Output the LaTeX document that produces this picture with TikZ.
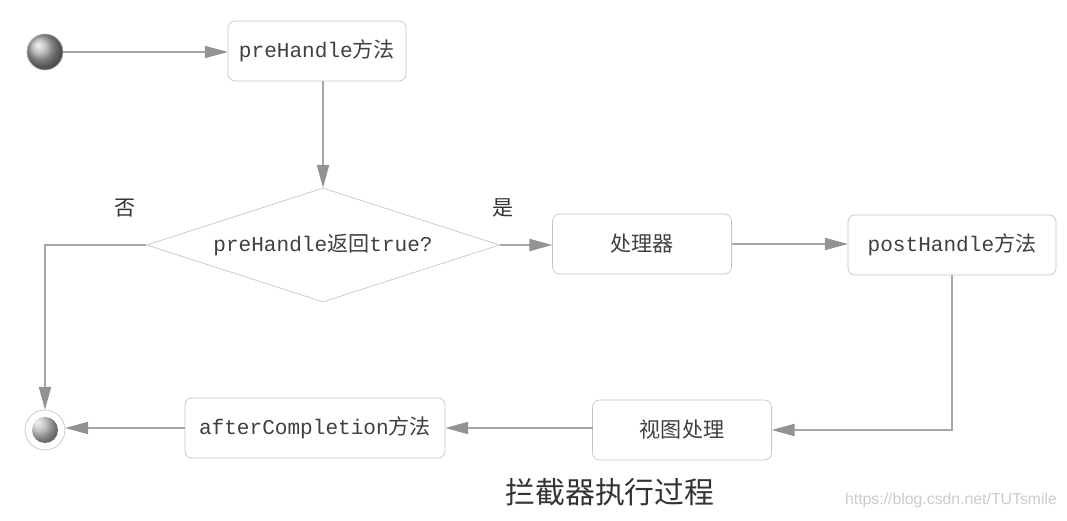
\documentclass[tikz,border=0pt]{standalone}
\usepackage{fontspec}
\setmainfont{Liberation Mono}
\newfontfamily\zhfont{Noto Sans CJK SC}
\newfontfamily\wmfont{Liberation Sans}
\newcommand{\zh}[1]{{\zhfont #1}}
\usepackage{tikz}
\usetikzlibrary{arrows.meta}
\usetikzlibrary{positioning, shapes.geometric}
\tikzset{
proc box/.style = { rectangle, draw = gray!45, fill = white, rounded corners = 4pt, minimum height = 1.2cm, text = black!75, font = \fontsize{12}{14}\selectfont },
decision box/.style = { diamond, draw = gray!45, fill = white, minimum width = 7.06cm, minimum height = 2.28cm, aspect = 3.1, inner sep = 0pt, text = black!75, font = \fontsize{12}{14}\selectfont },
start dot/.style = { circle, draw = gray!60, ball color = gray!65, minimum size = 0.72cm, inner sep = 0pt },
end ring/.style = { circle, draw = gray!45, fill = white, minimum size = 0.8cm, inner sep = 0pt,
    path picture = { \shade[ball color = gray!65] (path picture bounding box.center) circle (0.26cm); } },
flow/.style = { draw = gray!70, line width = 0.6pt, -{Triangle[length = 13pt, width = 7pt, color = gray!85, fill = gray!85]} },
branch text/.style = { text = black!80, font = \zhfont\fontsize{12}{14}\selectfont },
}

\begin{document}
\begin{tikzpicture}[x = 0.02cm, y = -0.02cm]
    \useasboundingbox[fill = white] (0, 0) rectangle (1067, 520);
    % nodes
    \node[start dot] (start) at (45, 52) {};
    \node[proc box, minimum width = 3.56cm] (pre) at (317, 51) {preHandle\zh{方法}};
    \node[decision box] (check) at (323, 245) {preHandle\zh{返回}true?};
    \node[proc box, minimum width = 3.58cm] (handler) at (642, 244) {\zh{处理器}};
    \node[proc box, minimum width = 4.16cm] (post) at (952, 245) {postHandle\zh{方法}};
    \node[proc box, minimum width = 3.58cm] (view) at (682, 430) {\zh{视图处理}};
    \node[proc box, minimum width = 5.2cm] (after) at (315, 428) {afterCompletion\zh{方法}};
    \node[end ring] (end) at (45, 430) {};
    \node[branch text] (no) at (125, 208) {否};
    \node[branch text] (yes) at (503, 208) {是};
    % connectors
    \draw[flow] (start) -- (start -| pre.west);
    \draw[flow] (check.north |- pre.south) -- (check.north);
    \draw[flow] (check.east) -- (check.east -| handler.west);
    \draw[flow] (handler.east) -- (handler.east -| post.west);
    \draw[flow] (post.south) |- (view.east);
    \draw[flow] (view.west) -- (view.west |- after.east) -- (after.east);
    \draw[flow] (after.west) -- (after.west -| end.east);
    \draw[flow] (check.west) -| (end.north);
    % caption
    \node[text = black!80, font = \zhfont\fontsize{17}{20}\selectfont] (caption) at (610, 492) {拦截器执行过程};
    \node[text = gray!40, font = \wmfont\fontsize{9}{11}\selectfont] (mark) at (951, 500) {https://blog.csdn.net/TUTsmile};
\end{tikzpicture}
\end{document}
